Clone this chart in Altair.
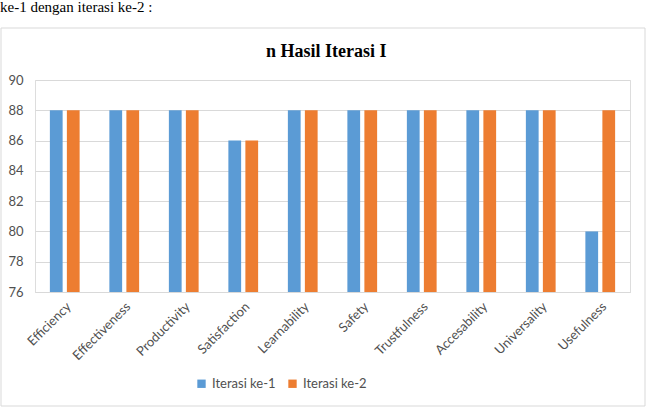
import altair as alt
import pandas as pd

categories = ["Efficiency", "Effectiveness", "Productivity", "Satisfaction", "Learnability",
              "Safety", "Trustfulness", "Accesability", "Universality", "Usefulness"]
iterasi_1 = [88, 88, 88, 86, 88, 88, 88, 88, 88, 80]
iterasi_2 = [88, 88, 88, 86, 88, 88, 88, 88, 88, 88]
series = ["Iterasi ke-1", "Iterasi ke-2"]
y_ticks = [76, 78, 80, 82, 84, 86, 88, 90]

rows = []
for c, a, b in zip(categories, iterasi_1, iterasi_2):
    rows.append({"cat": c, "series": series[0], "value": a})
    rows.append({"cat": c, "series": series[1], "value": b})
df = pd.DataFrame(rows)

W, H = 595, 212

bars = alt.Chart(df).mark_bar().encode(
    x=alt.X("cat:N", sort=categories,
            scale=alt.Scale(paddingInner=0.5, paddingOuter=0.25),
            axis=alt.Axis(title=None, labelAngle=-45, labelFont="Lato", labelFontSize=13,
                          labelColor="#505050", ticks=False, domainColor="#d9d9d9",
                          labelPadding=8, grid=False)),
    xOffset=alt.XOffset("series:N", sort=series,
                        scale=alt.Scale(paddingInner=0.25, paddingOuter=0)),
    y=alt.Y("value:Q", scale=alt.Scale(domain=[76, 90], zero=False, nice=False),
            axis=alt.Axis(title=None, values=y_ticks, labelFont="Lato", labelFontSize=13,
                          labelColor="#505050", ticks=False, domain=False,
                          gridColor="#d9d9d9", labelPadding=12)),
    y2=alt.datum(76),
    color=alt.Color("series:N", sort=series,
                    scale=alt.Scale(domain=series, range=["#5B9BD5", "#ED7D31"]),
                    legend=alt.Legend(title=None, orient="none", legendX=160, legendY=297,
                                      direction="horizontal", symbolType="square",
                                      symbolSize=70, labelFont="Lato", labelFontSize=13,
                                      labelColor="#505050", columnPadding=10,
                                      symbolStrokeWidth=0)),
)

frame = alt.Chart(pd.DataFrame({"a": [0]})).mark_rect(
    fill="white", fillOpacity=0, stroke="#d9d9d9", strokeWidth=1
).encode(x=alt.value(-34), x2=alt.value(610), y=alt.value(-52), y2=alt.value(326))

title = alt.Chart(pd.DataFrame({"t": ["n Hasil Iterasi I"]})).mark_text(
    font="Liberation Serif", fontSize=18, fontWeight="bold", color="black",
    align="left", baseline="alphabetic"
).encode(text="t:N", x=alt.value(231), y=alt.value(-23))

doc = alt.Chart(pd.DataFrame({"t": ["ke-1 dengan iterasi ke-2 :"]})).mark_text(
    font="Liberation Serif", fontSize=15, color="black",
    align="left", baseline="alphabetic"
).encode(text="t:N", x=alt.value(-35), y=alt.value(-68))

chart = alt.layer(frame, bars, title, doc).properties(
    width=W, height=H,
    autosize=alt.AutoSizeParams(type="none"),
    padding={"left": 35, "top": 80, "right": 19, "bottom": 120},
).configure_view(stroke=None).configure(background="white")

chart.save("out.html", embed_options={"renderer": "svg", "actions": False})
